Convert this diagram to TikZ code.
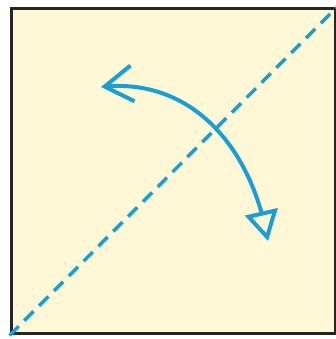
\documentclass[tikz,border=0pt]{standalone}
\usetikzlibrary{arrows.meta,bending}
\definecolor{bg}{RGB}{255,248,214}
\definecolor{ablue}{RGB}{28,158,212}
\begin{document}
\begin{tikzpicture}[x=1pt,y=1pt,
  axisline/.style={ablue,line width=3.5pt,dash pattern=on 13pt off 8pt},
  turnarrow/.style={ablue,line width=4pt,
    {Straight Barb[length=28pt,width=36pt,line width=4pt]}-{Triangle[open,length=30pt,width=33pt,line width=4pt]}}]
\useasboundingbox (0,0) rectangle (336,339);
\fill[white] (0,0) rectangle (336,339);
\node[draw=black!85,line width=3pt,fill=bg,minimum width=324pt,minimum height=325pt,inner sep=0pt,anchor=south west] (sq) at (9.5,3.5) {};
\coordinate (bl) at (sq.south west);
\coordinate (tr) at (sq.north east);
\draw[axisline] (bl) -- (tr);
\coordinate (a) at (101,252);
\coordinate (b) at (268,98);
\draw[turnarrow] (a) .. controls (185,262) and (250,200) .. (b);
\end{tikzpicture}
\end{document}
